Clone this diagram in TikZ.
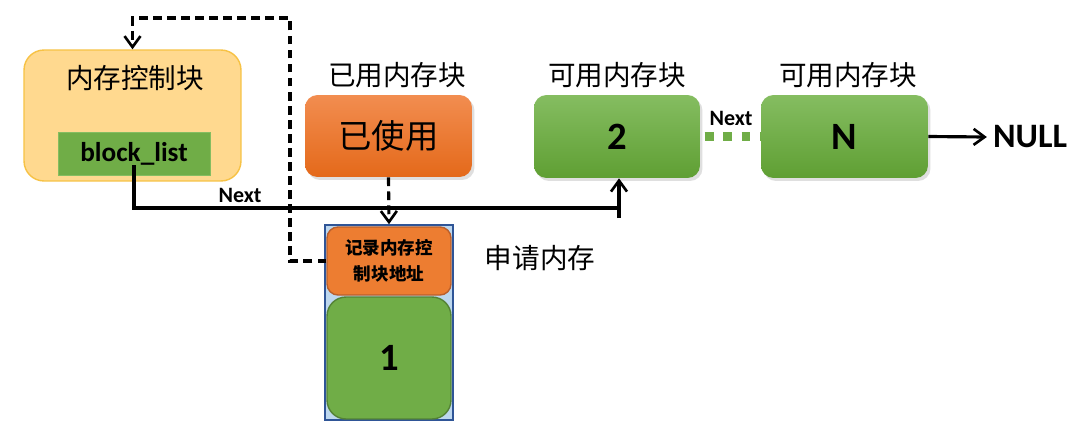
\documentclass[tikz,border=0pt]{standalone}
\usepackage{fontspec}
\setmainfont{Carlito}
\newfontfamily\cjk{Noto Sans CJK SC}
\usetikzlibrary{arrows.meta, positioning, shadows}
\definecolor{grnTop}{HTML}{85BD61}
\definecolor{grnBot}{HTML}{5F9F33}
\definecolor{grnFlat}{HTML}{70AD47}
\definecolor{grnEdge}{HTML}{548235}
\definecolor{orgTop}{HTML}{F28D50}
\definecolor{orgBot}{HTML}{E4691A}
\definecolor{orgFlat}{HTML}{ED7D31}
\definecolor{orgEdge}{HTML}{BA5F2C}
\definecolor{ylwFill}{HTML}{FFD98F}
\definecolor{ylwEdge}{HTML}{F7C245}
\definecolor{poolFill}{HTML}{BDD7EE}
\definecolor{poolEdge}{HTML}{2F5597}

\begin{document}
\begin{tikzpicture}[
  x=0.02cm, y=-0.02cm,
  shd/.style={drop shadow={opacity=0.25, shadow xshift=0.05cm, shadow yshift=-0.06cm}},
  gbox/.style={rounded corners=0.25cm, top color=grnTop, bottom color=grnBot,
               draw=none, shd, font=\bfseries\fontsize{22pt}{26pt}\selectfont},
  obox/.style={rounded corners=0.25cm, top color=orgTop, bottom color=orgBot,
               draw=none, shd},
  cjkT/.style={font=\cjk\fontsize{15.7pt}{18pt}\selectfont},
  nxt/.style={font=\bfseries\fontsize{12.5pt}{14pt}\selectfont},
  ar/.style={-{Straight Barb[length=2.2mm, width=3.2mm, line width=1.5pt]}, line width=1.8pt},
  dsh/.style={ar, dash pattern=on 5pt off 3pt}
]
\fill[white] (0,0) rectangle (1088,430);
\useasboundingbox (0,0) rectangle (1088,430);

% ================= memory control block =================
\node[rounded corners=0.4cm, fill=ylwFill, draw=ylwEdge, line width=0.8pt,
      minimum width=4.34cm, minimum height=2.62cm] (ctrl) at (132.5,115.5) {};
\node[cjkT] (ctrlT) at (135,78) {内存控制块};
\node[fill=grnFlat, draw=grnTop, minimum width=3.04cm, minimum height=0.86cm,
      font=\bfseries\fontsize{15.5pt}{18pt}\selectfont] (blist) at (134,153.5) {block\_list};

% ================= used block =================
\node[cjkT] (usedT) at (397,75) {已用内存块};
\node[obox, minimum width=3.34cm, minimum height=1.64cm,
      font=\cjk\fontsize{19pt}{22pt}\selectfont] (used) at (388.5,136) {已使用};

% ================= requested memory =================
\node[fill=poolFill, draw=poolEdge, line width=0.9pt,
      minimum width=2.56cm, minimum height=3.9cm] (pool) at (389,322.5) {};
\node[rounded corners=0.22cm, fill=orgFlat, draw=orgEdge, line width=0.8pt,
      minimum width=2.48cm, minimum height=1.36cm, align=center,
      font=\cjk\bfseries\fontsize{10pt}{15pt}\selectfont] (rec) at (389,261)
  {记录内存控\\制块地址};
\node[rounded corners=0.38cm, fill=grnFlat, draw=grnEdge, line width=0.8pt,
      minimum width=2.48cm, minimum height=2.44cm,
      font=\bfseries\fontsize{22pt}{26pt}\selectfont] (one) at (389,358) {1};
\node[cjkT] (apply) at (540,258) {申请内存};

% ================= free blocks =================
\node[cjkT] (freeT2) at (617,75) {可用内存块};
\node[gbox, minimum width=3.32cm, minimum height=1.66cm] (b2) at (617,136.5) {2};
\node[cjkT] (freeTN) at (848,75) {可用内存块};
\node[gbox, minimum width=3.34cm, minimum height=1.66cm] (bN) at (844.5,136.5) {N};
\node[font=\bfseries\fontsize{19.5pt}{23pt}\selectfont] (null) at (1030,137) {NULL};

\node[nxt] (nextA) at (240,195) {Next};
\node[nxt] (nextB) at (731,118) {Next};

% ================= connectors =================
\coordinate (up) at (290,18);
\coordinate (turn) at (619,208);
\coordinate (foot) at (619,218);

\draw[dsh] (rec.west) -| (up) -| (ctrl.north);
\draw[dsh] (used.south) -- (pool.north);
\draw[line width=1.8pt] ([yshift=0.2cm]blist.south) |- (turn);
\draw[ar] (foot) -- (b2.south -| foot);
\draw[grnFlat, line width=5pt, dash pattern=on 5pt off 5.5pt,
      shorten <=2.5pt] (b2.east) -- (bN.west);
\draw[ar] (bN.east) -- (null.west);

\end{tikzpicture}
\end{document}
